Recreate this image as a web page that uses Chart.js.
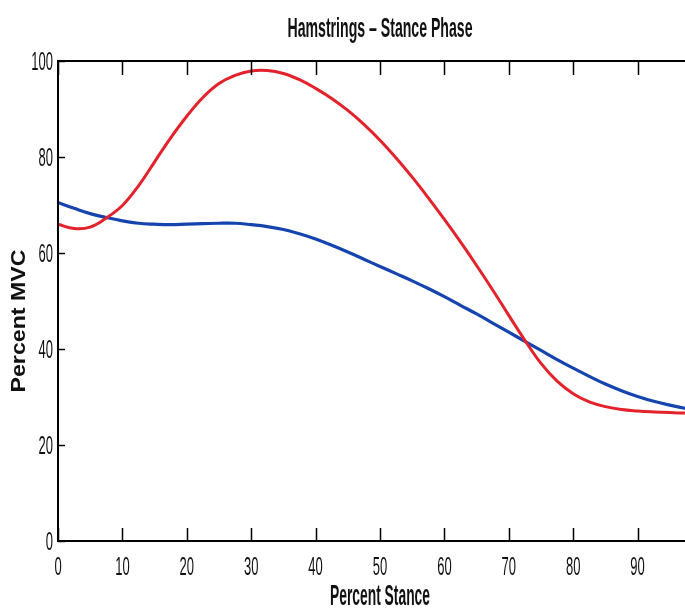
<!DOCTYPE html>
<html>
<head>
<meta charset="utf-8">
<script src="https://cdn.jsdelivr.net/npm/chart.js@4.4.1/dist/chart.umd.min.js"></script>
<style>
html,body{margin:0;padding:0;overflow:hidden;background:#ffffff;width:685px;height:614px}
#wrap{width:710px;height:614px;position:relative}
</style>
</head>
<body>
<div id="wrap"><canvas id="c" width="710" height="614"></canvas></div>
<script>
const chartTitle = 'Hamstrings – Stance Phase';
const xAxisTitle = 'Percent Stance';
const yAxisTitle = 'Percent MVC';

const stancePercent = [0, 2.5, 5, 7.5, 10, 12.5, 15, 17.5, 20, 22.5, 25, 27.5, 30, 32.5, 35, 37.5, 40, 42.5, 45, 47.5, 50, 52.5, 55, 57.5, 60, 62.5, 65, 67.5, 70, 72.5, 75, 77.5, 80, 82.5, 85, 87.5, 90, 92.5, 95, 97.5, 100];
const redValues  = [66.0, 65.1, 65.4, 67.3, 69.9, 74.0, 79.0, 84.0, 88.5, 92.4, 95.3, 97.0, 97.9, 98.0, 97.4, 96.1, 94.3, 92.2, 89.7, 86.8, 83.5, 79.8, 75.8, 71.5, 67.0, 62.3, 57.4, 52.3, 47.0, 41.8, 37.0, 33.3, 30.7, 29.0, 28.0, 27.4, 27.1, 26.9, 26.75, 26.65, 26.6];
const blueValues = [70.5, 69.3, 68.2, 67.4, 66.7, 66.2, 66.0, 65.9, 66.0, 66.1, 66.2, 66.2, 65.9, 65.5, 64.9, 64.0, 62.9, 61.6, 60.2, 58.7, 57.2, 55.7, 54.2, 52.6, 50.9, 49.1, 47.3, 45.4, 43.5, 41.6, 39.7, 37.8, 36.0, 34.3, 32.7, 31.3, 30.1, 29.1, 28.3, 27.6, 27.0];

const xTickValues = [0, 10, 20, 30, 40, 50, 60, 70, 80, 90, 100];
const yTickValues = [0, 20, 40, 60, 80, 100];

const toPoints = (xs, ys) => xs.map((x, i) => ({x: x, y: ys[i]}));

const framePlugin = {
  id: 'frame',
  afterDraw(chart) {
    const ctx = chart.ctx;
    const a = chart.chartArea;
    const xs = chart.scales.x, ys = chart.scales.y;
    ctx.save();
    ctx.strokeStyle = '#000';
    ctx.fillStyle = '#111';
    ctx.lineWidth = 2;
    ctx.strokeRect(a.left, a.top, a.right - a.left, a.bottom - a.top);
    ctx.lineWidth = 1.5;
    ctx.beginPath();
    xs.ticks.forEach(t => {
      const px = Math.round(xs.getPixelForValue(t.value)) + 0.5;
      ctx.moveTo(px, a.bottom); ctx.lineTo(px, a.bottom - 13);
      ctx.moveTo(px, a.top); ctx.lineTo(px, a.top + 14);
    });
    ys.ticks.forEach(t => {
      const py = Math.round(ys.getPixelForValue(t.value)) + 0.5;
      ctx.moveTo(a.left, py); ctx.lineTo(a.left + 7, py);
      ctx.moveTo(a.right, py); ctx.lineTo(a.right - 7, py);
    });
    ctx.stroke();

    // tick labels (condensed)
    ctx.font = '26px "Liberation Sans", Arial, sans-serif';
    ctx.textBaseline = 'middle';
    xs.ticks.forEach(t => {
      const px = xs.getPixelForValue(t.value);
      ctx.save();
      ctx.translate(px, 568);
      ctx.scale(0.5, 1);
      ctx.textAlign = 'center';
      ctx.fillText(String(t.value), 0, 0);
      ctx.restore();
    });
    ys.ticks.forEach(t => {
      const py = ys.getPixelForValue(t.value);
      ctx.save();
      ctx.translate(a.left - 5, py + 2);
      ctx.scale(0.5, 1);
      ctx.textAlign = 'right';
      ctx.fillText(String(t.value), 0, 0);
      ctx.restore();
    });

    const cx = (a.left + a.right) / 2;
    // chart title
    ctx.font = 'bold 28px "Liberation Sans", Arial, sans-serif';
    ctx.textAlign = 'center';
    ctx.textBaseline = 'alphabetic';
    let w = ctx.measureText(chartTitle).width;
    ctx.save();
    ctx.translate(cx, 37);
    ctx.scale(185 / w, 1);
    ctx.fillText(chartTitle, 0, 0);
    ctx.restore();

    // x axis title
    ctx.font = 'bold 30px "Liberation Sans", Arial, sans-serif';
    w = ctx.measureText(xAxisTitle).width;
    ctx.save();
    ctx.translate(cx, 605);
    ctx.scale(100 / w, 1);
    ctx.fillText(xAxisTitle, 0, 0);
    ctx.restore();

    // y axis title
    ctx.font = 'bold 21px "Liberation Sans", Arial, sans-serif';
    ctx.textBaseline = 'middle';
    w = ctx.measureText(yAxisTitle).width;
    ctx.save();
    ctx.translate(19, 321);
    ctx.rotate(-Math.PI / 2);
    ctx.scale(143 / w, 1);
    ctx.fillText(yAxisTitle, 0, 0);
    ctx.restore();
    ctx.restore();
  }
};

new Chart(document.getElementById('c'), {
  type: 'line',
  data: {
    datasets: [
      {
        label: 'Red',
        data: toPoints(stancePercent, redValues),
        borderColor: '#e3222b',
        borderWidth: 3,
        pointRadius: 0,
        fill: false,
        tension: 0.4
      },
      {
        label: 'Blue',
        data: toPoints(stancePercent, blueValues),
        borderColor: '#1544ae',
        borderWidth: 3.2,
        pointRadius: 0,
        fill: false,
        tension: 0.4
      }
    ]
  },
  options: {
    responsive: false,
    animation: false,
    devicePixelRatio: 1,
    layout: { padding: { top: 61, right: 8, left: 0, bottom: 0 } },
    plugins: { legend: { display: false }, title: { display: false }, tooltip: { enabled: false } },
    scales: {
      x: {
        type: 'linear',
        min: 0, max: 100,
        grid: { display: false, drawTicks: false },
        border: { display: false },
        ticks: { display: false },
        afterBuildTicks: s => { s.ticks = xTickValues.map(v => ({value: v})); },
        afterFit: s => { s.height = 73; }
      },
      y: {
        type: 'linear',
        min: 0, max: 100,
        grid: { display: false, drawTicks: false },
        border: { display: false },
        ticks: { display: false },
        afterBuildTicks: s => { s.ticks = yTickValues.map(v => ({value: v})); },
        afterFit: s => { s.width = 58; }
      }
    }
  },
  plugins: [framePlugin]
});
</script>
</body>
</html>
